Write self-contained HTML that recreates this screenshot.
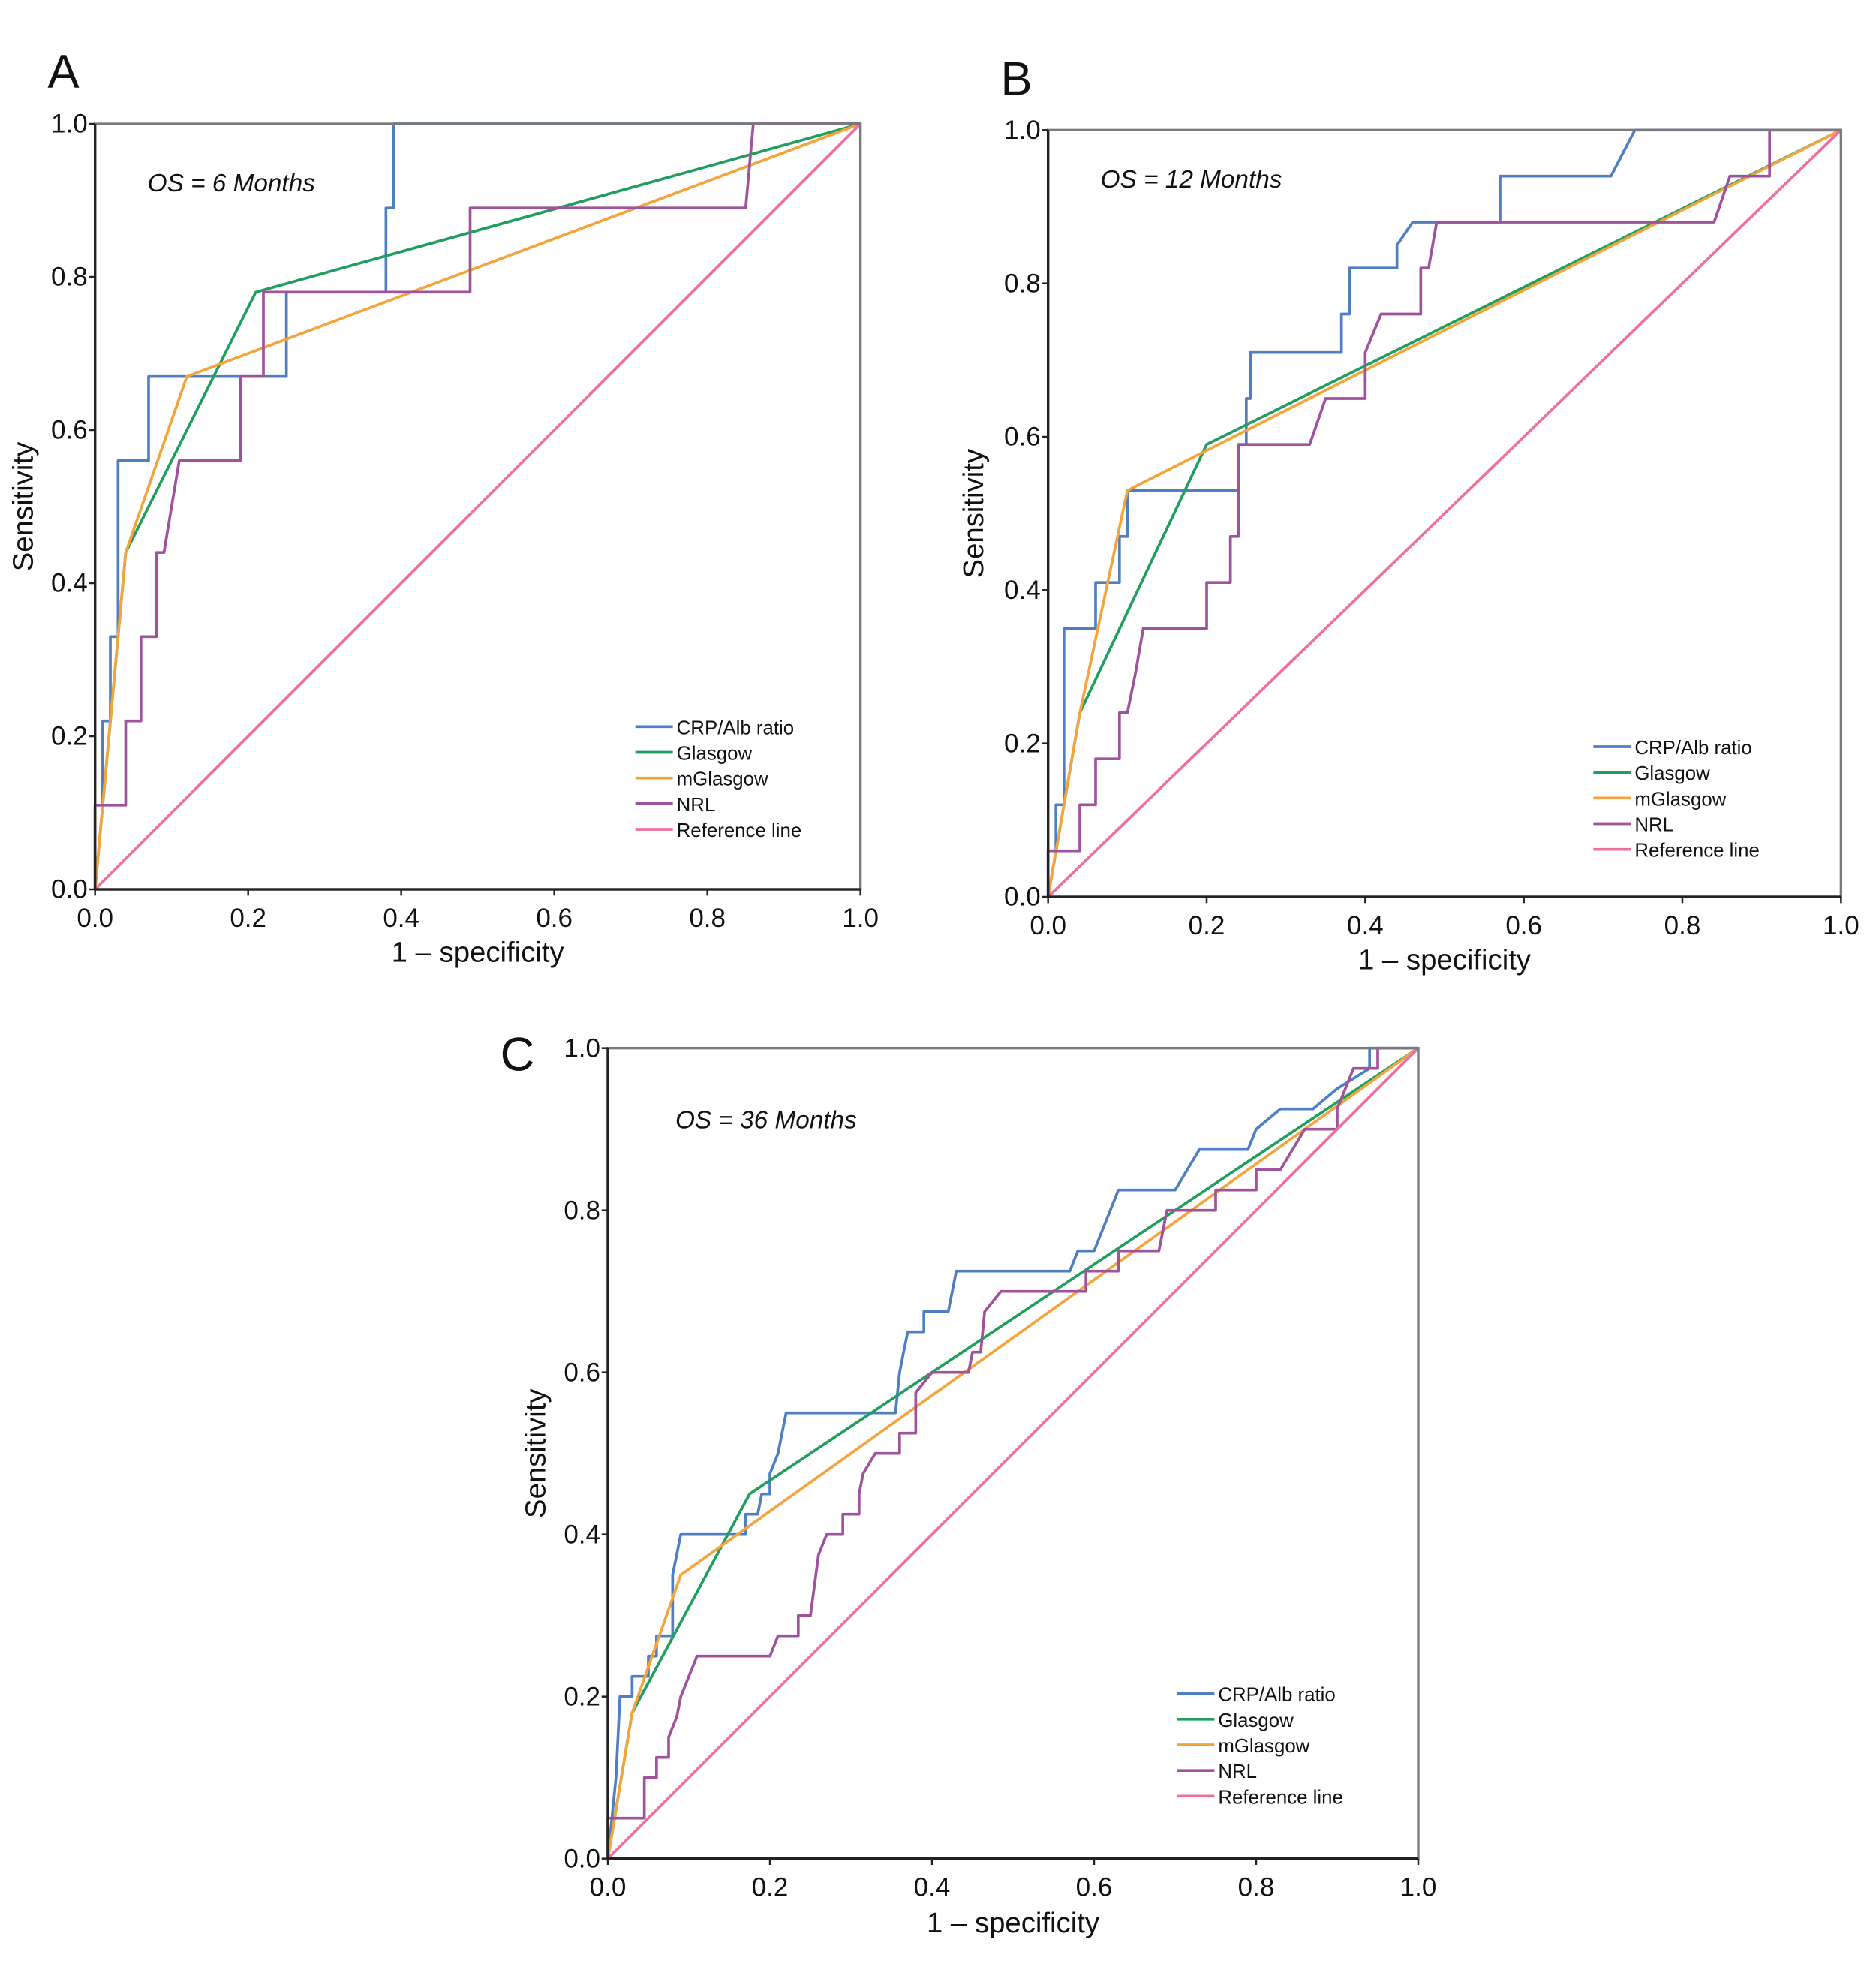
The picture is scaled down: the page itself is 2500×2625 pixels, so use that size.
<!DOCTYPE html>
<html><head><meta charset="utf-8"><style>
html,body{margin:0;padding:0;background:#fff;}
svg{display:block;font-family:"Liberation Sans",sans-serif;}
</style></head><body>
<svg id="chart" width="2500" height="2625" viewBox="0 0 1500 1575" xmlns="http://www.w3.org/2000/svg"></svg>
<script>
// ---- data ----
const ticks = [0, 0.2, 0.4, 0.6, 0.8, 1.0];
const tickLabels = ["0.0","0.2","0.4","0.6","0.8","1.0"];
const seriesNames = ["CRP/Alb ratio","Glasgow","mGlasgow","NRL","Reference line"];
const panelTitles = ["OS = 6 Months","OS = 12 Months","OS = 36 Months"];
const panelLetters = ["A","B","C"];

const aCRP_x=[0,0,0.01,0.01,0.02,0.02,0.03,0.03,0.07,0.07,0.25,0.25,0.38,0.38,0.39,0.39,1];
const aCRP_y=[0,0.11,0.11,0.22,0.22,0.33,0.33,0.56,0.56,0.67,0.67,0.78,0.78,0.89,0.89,1,1];
const aGla_x=[0,0.04,0.21,1];
const aGla_y=[0,0.44,0.78,1];
const aMGla_x=[0,0.04,0.12,1];
const aMGla_y=[0,0.44,0.67,1];
const aNRL_x=[0,0,0.04,0.04,0.06,0.06,0.08,0.08,0.09,0.11,0.19,0.19,0.22,0.22,0.49,0.49,0.85,0.86,1];
const aNRL_y=[0,0.11,0.11,0.22,0.22,0.33,0.33,0.44,0.44,0.56,0.56,0.67,0.67,0.78,0.78,0.89,0.89,1,1];

const bCRP_x=[0,0,0.01,0.01,0.02,0.02,0.06,0.06,0.09,0.09,0.1,0.1,0.24,0.24,0.25,0.25,0.255,0.255,0.37,0.37,0.38,0.38,0.44,0.44,0.46,0.57,0.57,0.71,0.74,1];
const bCRP_y=[0,0.06,0.06,0.12,0.12,0.35,0.35,0.41,0.41,0.47,0.47,0.53,0.53,0.59,0.59,0.65,0.65,0.71,0.71,0.76,0.76,0.82,0.82,0.85,0.88,0.88,0.94,0.94,1,1];
const bGla_x=[0,0.04,0.2,1];
const bGla_y=[0,0.24,0.59,1];
const bMGla_x=[0,0.04,0.1,1];
const bMGla_y=[0,0.24,0.53,1];
const bNRL_x=[0,0,0.04,0.04,0.06,0.06,0.09,0.09,0.1,0.11,0.12,0.2,0.2,0.23,0.23,0.24,0.24,0.33,0.35,0.4,0.4,0.42,0.47,0.47,0.48,0.49,0.84,0.86,0.91,0.91,1];
const bNRL_y=[0,0.06,0.06,0.12,0.12,0.18,0.18,0.24,0.24,0.29,0.35,0.35,0.41,0.41,0.47,0.47,0.59,0.59,0.65,0.65,0.71,0.76,0.76,0.82,0.82,0.88,0.88,0.94,0.94,1,1];

const cCRP_x=[0,0.01,0.015,0.03,0.03,0.05,0.05,0.06,0.06,0.08,0.08,0.085,0.09,0.17,0.17,0.185,0.19,0.2,0.2,0.21,0.215,0.22,0.355,0.36,0.365,0.37,0.39,0.39,0.42,0.43,0.57,0.58,0.6,0.63,0.7,0.73,0.79,0.8,0.83,0.87,0.9,0.94,0.94,1];
const cCRP_y=[0,0.1,0.2,0.2,0.225,0.225,0.25,0.25,0.275,0.275,0.35,0.375,0.4,0.4,0.425,0.425,0.45,0.45,0.475,0.5,0.525,0.55,0.55,0.6,0.625,0.65,0.65,0.675,0.675,0.725,0.725,0.75,0.75,0.825,0.825,0.875,0.875,0.9,0.925,0.925,0.95,0.975,1,1];
const cGla_x=[0,0.03,0.175,1];
const cGla_y=[0,0.18,0.45,1];
const cMGla_x=[0,0.03,0.09,1];
const cMGla_y=[0,0.18,0.35,1];
const cNRL_x=[0,0,0.045,0.045,0.06,0.06,0.075,0.075,0.085,0.09,0.1,0.11,0.2,0.21,0.235,0.235,0.25,0.26,0.27,0.29,0.29,0.31,0.31,0.315,0.33,0.36,0.36,0.38,0.38,0.4,0.445,0.45,0.46,0.465,0.485,0.59,0.59,0.63,0.63,0.68,0.69,0.75,0.75,0.8,0.8,0.83,0.86,0.9,0.9,0.92,0.95,0.95,1];
const cNRL_y=[0,0.05,0.05,0.1,0.1,0.125,0.125,0.15,0.175,0.2,0.225,0.25,0.25,0.275,0.275,0.3,0.3,0.375,0.4,0.4,0.425,0.425,0.45,0.475,0.5,0.5,0.525,0.525,0.575,0.6,0.6,0.625,0.625,0.675,0.7,0.7,0.725,0.725,0.75,0.75,0.8,0.8,0.825,0.825,0.85,0.85,0.9,0.9,0.925,0.975,0.975,1,1];
const refX=[0,1];
const refY=[0,1];

const colors=["#4f7fc3","#1f9e5e","#f5a43c","#a0529c","#ef6fa0"];
const panels=[
 {L:76,R:688,T:99,B:711,series:[[aCRP_x,aCRP_y],[aGla_x,aGla_y],[aMGla_x,aMGla_y],[aNRL_x,aNRL_y],[refX,refY]],
  letter:[38,70],title:[118,153],ylab:18,leg:[508,581],xlab:769},
 {L:838,R:1472,T:104,B:717,series:[[bCRP_x,bCRP_y],[bGla_x,bGla_y],[bMGla_x,bMGla_y],[bNRL_x,bNRL_y],[refX,refY]],
  letter:[800,76],title:[880,150],ylab:778,leg:[1274,597],xlab:775},
 {L:486,R:1134,T:838,B:1486,series:[[cCRP_x,cCRP_y],[cGla_x,cGla_y],[cMGla_x,cMGla_y],[cNRL_x,cNRL_y],[refX,refY]],
  letter:[400,856],title:[540,902],ylab:428,leg:[941,1354],xlab:1545}
];
const NS="http://www.w3.org/2000/svg";
const svg=document.getElementById('chart');
function mk(tag,attrs,parent){const e=document.createElementNS(NS,tag);for(const k in attrs)e.setAttribute(k,attrs[k]);(parent||svg).appendChild(e);return e;}
panels.forEach((p,pi)=>{
  const g=mk('g',{});
  
  
  const sx=v=>p.L+v*(p.R-p.L), sy=v=>p.B-v*(p.B-p.T);
  // series
  p.series.forEach((s,si)=>{
    const pts=s[0].map((x,i)=>sx(x).toFixed(1)+','+sy(s[1][i]).toFixed(1)).join(' ');
    const pl=mk('polyline',{points:pts,fill:'none',stroke:colors[si],'stroke-width':2.2,'stroke-linejoin':'round'},g);
    
    
  });
  // frame
  const fr=mk('rect',{x:p.L,y:p.T,width:p.R-p.L,height:p.B-p.T,fill:'none',stroke:'#7a7a7a','stroke-width':2},g);
  
  
  mk('line',{x1:p.L,y1:p.T,x2:p.L,y2:p.B,stroke:'#222','stroke-width':2},g);
  mk('line',{x1:p.L,y1:p.B,x2:p.R,y2:p.B,stroke:'#222','stroke-width':2},g);
  ticks.forEach((t,i)=>{
    mk('line',{x1:p.L-5,y1:sy(t),x2:p.L,y2:sy(t),stroke:'#222','stroke-width':1.5},g);
    mk('line',{x1:sx(t),y1:p.B,x2:sx(t),y2:p.B+5,stroke:'#222','stroke-width':1.5},g);
    const yt=mk('text',{x:p.L-6,y:sy(t)+7,'text-anchor':'end','font-size':21,fill:'#111'},g);
    yt.textContent=tickLabels[i];
    
    
    const xt=mk('text',{x:sx(t),y:p.B+30,'text-anchor':'middle','font-size':21,fill:'#111'},g);
    xt.textContent=tickLabels[i];
    
    
  });
  const xl=mk('text',{x:(p.L+p.R)/2,y:p.xlab,'text-anchor':'middle','font-size':23,fill:'#111'},g);
  xl.textContent='1 \u2013 specificity';
  
  
  const cy=(p.T+p.B)/2;
  const yl=mk('text',{x:p.ylab+8,y:cy,'text-anchor':'middle','font-size':23,fill:'#111',transform:'rotate(-90 '+(p.ylab+8)+' '+cy+')'},g);
  yl.textContent='Sensitivity';
  
  
  const lt=mk('text',{x:p.letter[0],y:p.letter[1],'font-size':38,fill:'#111'},g);
  lt.textContent=panelLetters[pi];
  
  
  const tt=mk('text',{x:p.title[0],y:p.title[1],'font-size':20,'font-style':'italic',fill:'#111'},g);
  tt.textContent=panelTitles[pi];
  
  
  seriesNames.forEach((n,si)=>{
    const y=p.leg[1]+si*20.5;
    const le=mk('g',{},g);
    
    
    mk('line',{x1:p.leg[0],y1:y,x2:p.leg[0]+30,y2:y,stroke:colors[si],'stroke-width':2.2},le);
    const t=mk('text',{x:p.leg[0]+33,y:y+6,'font-size':15.5,fill:'#111'},le);
    t.textContent=n;
  });
});
</script>
</body></html>
